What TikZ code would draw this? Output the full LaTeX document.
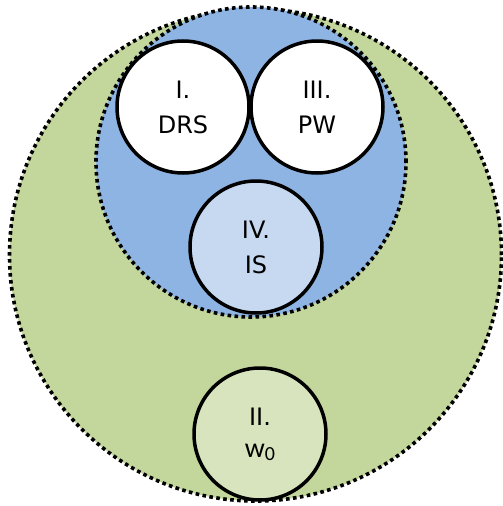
\documentclass[tikz,border=0pt]{standalone}
\usepackage{fontspec}
\setmainfont{DejaVu Sans}
\newfontfamily\subfont{Carlito}
\usetikzlibrary{positioning}

\definecolor{worldgreen}{HTML}{C3D69B}
\definecolor{setblue}{HTML}{8EB4E3}
\definecolor{paleblue}{HTML}{C6D9F1}
\definecolor{palegreen}{HTML}{D7E4BD}

\tikzset{
  region/.style={circle, draw, line width=3.6pt, dash pattern=on 3.6pt off 3.4pt, inner sep=0pt},
  part/.style={circle, draw, line width=3.5pt, minimum size=132pt, inner sep=0pt,
    align=center, font=\fontsize{24}{35}\selectfont},
}

\begin{document}
\begin{tikzpicture}[x=1pt,y=-1pt]
  \useasboundingbox (0,0) rectangle (503,506);
  % outer and inner regions
  \node[region, fill=worldgreen, minimum size=492pt] (world) at (255.5,255) {};
  \node[region, fill=setblue, minimum size=310pt] (sets) at (251,162) {};
  % the four parts
  \node[part, fill=white] (drs) at (183,107) {I.\\DRS};
  \node[part, fill=white, right=-1.5pt of drs] (pw) {III.\\PW};
  \node[part, fill=paleblue] (is) at (256,247) {IV.\\IS};
  \node[part, fill=palegreen] (w0) at (260,434)
    {II.\\[-3pt]{\subfont\fontsize{28}{28}\selectfont w\raisebox{-3pt}{\fontsize{20}{20}\selectfont 0}}};
\end{tikzpicture}
\end{document}
